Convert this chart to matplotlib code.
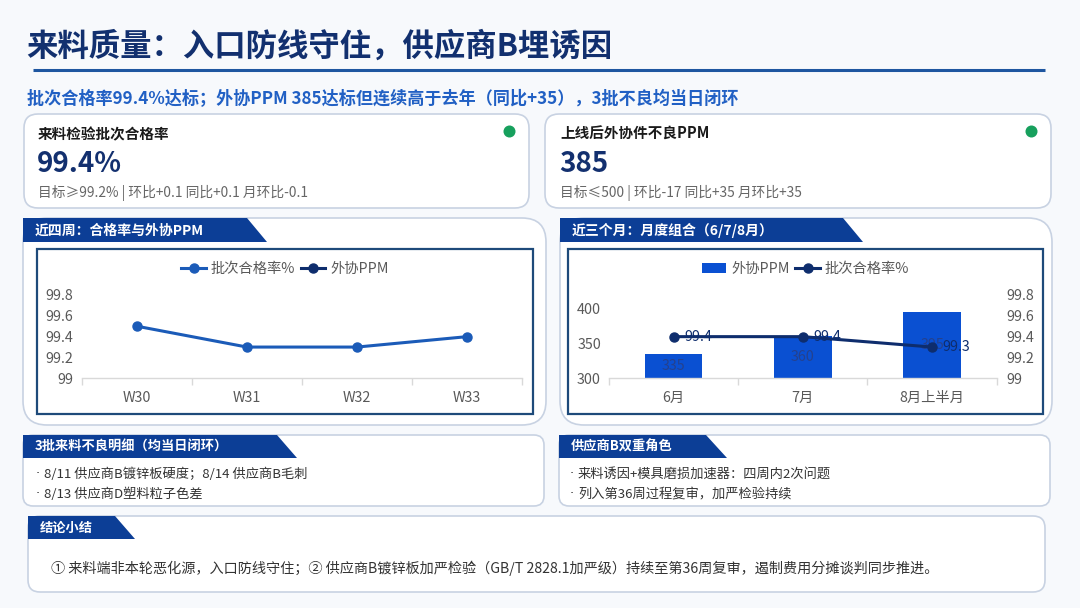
import matplotlib
matplotlib.use('Agg')
import matplotlib.pyplot as plt
from matplotlib.patches import FancyBboxPatch, Polygon, Rectangle, Circle

plt.rcParams['font.family'] = ['Noto Sans CJK SC', 'DejaVu Sans']

# ---------------- data ----------------
title = '来料质量：入口防线守住，供应商B埋诱因'
subtitle = '批次合格率99.4%达标；外协PPM 385达标但连续高于去年（同比+35），3批不良均当日闭环'

kpi_titles = ['来料检验批次合格率', '上线后外协件不良PPM']
kpi_values = ['99.4%', '385']
kpi_notes = ['目标≥99.2% | 环比+0.1 同比+0.1 月环比-0.1',
             '目标≤500 | 环比-17 同比+35 月环比+35']

weeks = ['W30', 'W31', 'W32', 'W33']
week_pass_rate = [99.5, 99.3, 99.3, 99.4]

months = ['6月', '7月', '8月上半月']
month_ppm = [335, 360, 395]
month_pass_rate = [99.4, 99.4, 99.3]

rate_ticks = [99, 99.2, 99.4, 99.6, 99.8]
rate_tick_labels = ['99', '99.2', '99.4', '99.6', '99.8']
ppm_ticks = [300, 350, 400]

panel_titles = ['近四周：合格率与外协PPM', '近三个月：月度组合（6/7/8月）']
detail_title = '3批来料不良明细（均当日闭环）'
detail_items = ['8/11 供应商B镀锌板硬度；8/14 供应商B毛刺', '8/13 供应商D塑料粒子色差']
role_title = '供应商B双重角色'
role_items = ['来料诱因+模具磨损加速器：四周内2次问题', '列入第36周过程复审，加严检验持续']
concl_title = '结论小结'
concl_text = ('① 来料端非本轮恶化源，入口防线守住；② 供应商B镀锌板加严检验（GB/T 2828.1加严级）'
              '持续至第36周复审，遏制费用分摊谈判同步推进。')

# ---------------- style ----------------
BG = '#F7F9FC'
TAB = '#0C3E96'
NAVY = '#0E2D6D'
LINE_BLUE = '#1B5BB8'
BAR_BLUE = '#0A50D2'
BORDER = '#C8D2E2'
FRAME = '#1E4A7A'
GRAY = '#595959'

W, H = 1080, 608
fig = plt.figure(figsize=(10.8, 6.08), dpi=100)
fig.patch.set_facecolor(BG)
bg = fig.add_axes([0, 0, 1, 1])
bg.set_xlim(0, W)
bg.set_ylim(H, 0)
bg.axis('off')
bg.set_zorder(0)


def rbox(x0, y0, x1, y1, r, fc='white', ec=BORDER, lw=1.2, z=1):
    bg.add_patch(FancyBboxPatch((x0, y0), x1 - x0, y1 - y0,
                                boxstyle=f'round,pad=0,rounding_size={r}',
                                fc=fc, ec=ec, lw=lw, zorder=z))


def tab(x0, y0, x1t, x1b, y1, text, fs=10):
    bg.add_patch(Polygon([(x0, y0), (x1t, y0), (x1b, y1), (x0, y1)], closed=True,
                         fc=TAB, ec='none', zorder=3))
    bg.text(x0 + 12, (y0 + y1) / 2 + 0.5, text, color='white', fontsize=fs,
            fontweight='bold', va='center', ha='left', zorder=4)


def axes_px(x0, y0, x1, y1):
    return fig.add_axes([x0 / W, 1 - y1 / H, (x1 - x0) / W, (y1 - y0) / H])


def bullets(x, y0, items):
    for k, t in enumerate(items):
        y = y0 + 20 * k
        bg.text(x, y, '·', fontsize=9.5, color='#333333', va='center', ha='left', zorder=4,
                family=['DejaVu Sans'])
        bg.text(x + 8, y, t, fontsize=9.5, color='#333333', va='center', ha='left', zorder=4)


# ---------------- header ----------------
bg.text(26, 47, title, fontsize=22.6, fontweight='bold', color='#12306F', va='center', ha='left')
bg.plot([33, 1045], [70, 70], color='#1E56A0', lw=2.2, solid_capstyle='butt')
bg.text(27, 99, subtitle, fontsize=12.3, fontweight='bold', color='#2160C4', va='center', ha='left')

# ---------------- KPI cards ----------------
for (x0, x1, tx), kt, kv, kn in zip([(24, 529, 38), (545, 1051, 560)], kpi_titles, kpi_values, kpi_notes):
    rbox(x0, 114, x1, 208, 14)
    bg.text(tx, 134, kt, fontsize=10.5, fontweight='bold', color='#1A1A1A', va='center', ha='left', zorder=4)
    bg.text(tx - 1, 164, kv, fontsize=20, fontweight='bold', color='#13306F', va='center', ha='left', zorder=4)
    bg.text(tx, 193, kn, fontsize=9.9, color='#666666', va='center', ha='left', zorder=4)
    bg.add_patch(Circle((x1 - 19.5, 131.5), 6, fc='#17A05D', ec='none', zorder=4))

# ---------------- chart panels ----------------
rbox(23, 218, 546, 425, 24)
tab(23, 218, 247, 267, 242, panel_titles[0])
bg.add_patch(Rectangle((37, 249), 533 - 37, 414 - 249, fc='white', ec=FRAME, lw=1.6, zorder=2))

rbox(560, 218, 1052, 425, 24)
tab(560, 218, 843, 863, 242, panel_titles[1])
bg.add_patch(Rectangle((568, 249), 1043 - 568, 414 - 249, fc='white', ec=FRAME, lw=1.6, zorder=2))


def style_cat_axis(ax, n):
    ax.set_facecolor('none')
    for s in ['top', 'right', 'left']:
        ax.spines[s].set_visible(False)
    ax.spines['bottom'].set_color('#D9D9D9')
    ax.spines['bottom'].set_linewidth(1)
    ax.set_xlim(-0.5, n - 0.5)
    ax.set_xticks([i - 0.5 for i in range(n + 1)], minor=True)
    ax.tick_params(axis='x', which='minor', length=5, width=1, color='#D9D9D9')
    ax.tick_params(axis='x', which='major', length=0, pad=9, labelsize=10.3, labelcolor=GRAY)
    ax.tick_params(axis='y', length=0, labelsize=10.3, labelcolor=GRAY)


# left chart
ax1 = axes_px(82, 295, 522, 378.3)
xw = list(range(len(weeks)))
l1, = ax1.plot(xw, week_pass_rate, color=LINE_BLUE, lw=2.2, marker='o', ms=6.5, clip_on=False)
l1b, = ax1.plot([], [], color=NAVY, lw=2.2, marker='o', ms=6.5)
style_cat_axis(ax1, len(weeks))
ax1.set_xticks(xw, weeks)
ax1.set_ylim(rate_ticks[0], rate_ticks[-1])
ax1.set_yticks(rate_ticks, rate_tick_labels)
ax1.tick_params(axis='y', pad=6.5)
fig.legend([l1, l1b], ['批次合格率%', '外协PPM'], loc='center', bbox_to_anchor=(285 / W, 1 - 269 / H),
           ncol=2, frameon=False, fontsize=10.3, labelcolor=GRAY, handlelength=1.7,
           handletextpad=0.35, columnspacing=0.4, borderpad=0)

# right chart
ax2 = axes_px(609, 295, 996.7, 378.3)
xm = list(range(len(months)))
bars = ax2.bar(xm, month_ppm, width=0.445, color=BAR_BLUE, zorder=2)
style_cat_axis(ax2, len(months))
ax2.set_xticks(xm, months)
ax2.set_ylim(300, 418.7)
ax2.set_yticks(ppm_ticks, [str(t) for t in ppm_ticks])
ax2.tick_params(axis='y', pad=5.8)
for i, v in zip(xm, month_ppm):
    ax2.text(i, (300 + v) / 2, str(v), ha='center', va='center', color='#24418E', fontsize=10.3, zorder=3)

ax3 = ax2.twinx()
ax3.set_facecolor('none')
for s in ['top', 'right', 'left', 'bottom']:
    ax3.spines[s].set_visible(False)
l2, = ax3.plot(xm, month_pass_rate, color=NAVY, lw=2.2, marker='o', ms=6.5, zorder=4)
ax3.set_ylim(rate_ticks[0], rate_ticks[-1])
ax3.set_yticks(rate_ticks, rate_tick_labels)
ax3.tick_params(axis='y', length=0, labelsize=10.3, labelcolor=GRAY, pad=7)
for i, v in zip(xm, month_pass_rate):
    ax3.annotate(f'{v}', (i, v), xytext=(7.5, 0), textcoords='offset points', ha='left', va='center',
                 color=NAVY, fontsize=10.3, zorder=5)
fig.legend([bars, l2], ['外协PPM', '批次合格率%'], loc='center', bbox_to_anchor=(805.5 / W, 1 - 269 / H),
           ncol=2, frameon=False, fontsize=10.3, labelcolor=GRAY, handlelength=1.7, handleheight=0.65,
           handletextpad=0.35, columnspacing=0.4, borderpad=0)

# ---------------- detail cards ----------------
rbox(23, 435, 544, 506, 10)
tab(23, 435, 277, 297, 458, detail_title, fs=9.5)
bullets(36, 474, detail_items)

rbox(559, 435, 1050, 506, 10)
tab(559, 435, 706, 727, 458, role_title, fs=9.5)
bullets(570, 474, role_items)

rbox(28, 516, 1045, 592, 12)
tab(28, 516, 115, 135, 539, concl_title, fs=9.5)
bg.text(51, 568, concl_text, fontsize=10.2, color='#333333', va='center', ha='left', zorder=4)

fig.savefig('out.png', dpi=100, facecolor=BG)
